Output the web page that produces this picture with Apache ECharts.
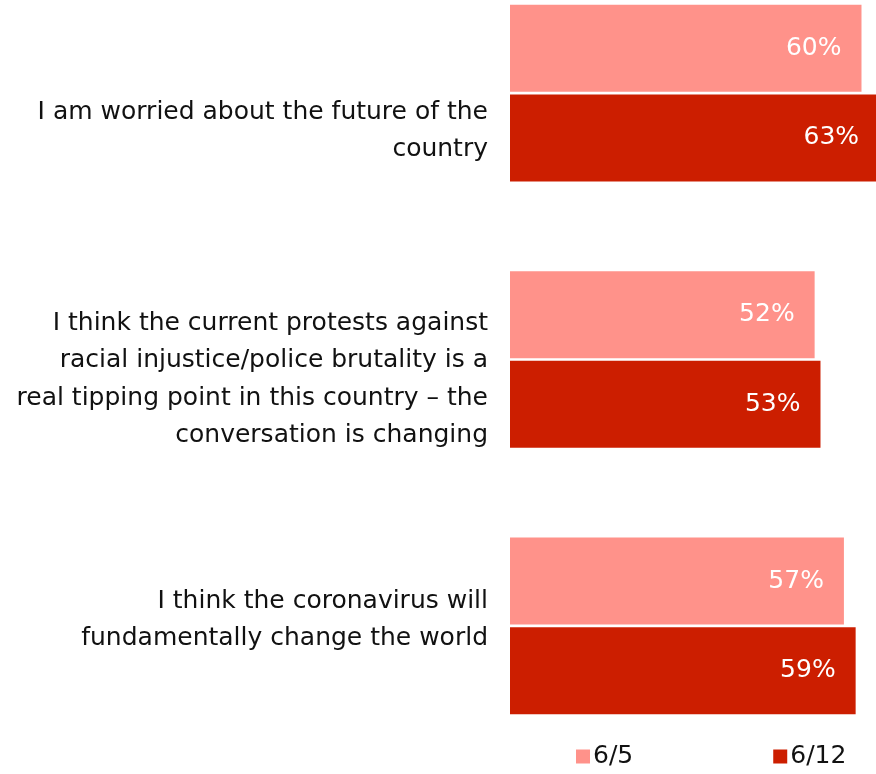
<!DOCTYPE html>
<html>
<head>
<meta charset="utf-8">
<script src="https://cdn.jsdelivr.net/npm/echarts@6/dist/echarts.min.js"></script>
<style>html,body{margin:0;padding:0;background:#fff;overflow:hidden;width:876px;height:774px;position:relative;}#c{position:absolute;left:0;top:-40px;width:882px;height:814px;}</style>
</head>
<body>
<div id="c"></div>
<script>
var categories = [
  "I am worried about the future of the\ncountry",
  "I think the current protests against\nracial injustice/police brutality is a\nreal tipping point in this country – the\nconversation is changing",
  "I think the coronavirus will\nfundamentally change the world"
];
var seriesNames = ["6/5", "6/12"];
var values65 = [60, 52, 57];
var values612 = [63, 53, 59];

var FONT = "DejaVu Sans";
var FS = 25;
// vertical offsets of each category label block (px, + = down)
var labelShift = [38, 20, -6];
var chart = echarts.init(document.getElementById('c'));
chart.setOption({
  animation: false,
  textStyle: {fontFamily: FONT},
  legend: {
    data: seriesNames,
    bottom: 0,
    left: 571,
    itemWidth: 14,
    itemHeight: 14,
    itemGap: 140,
    icon: 'rect',
    textStyle: {fontSize: FS, color: '#111', fontFamily: FONT, padding: [0,0,0,-2]}
  },
  grid: {left: 510, right: 0, top: 0, bottom: 15, containLabel: false},
  xAxis: {type: 'value', min: 0, max: 63.5, show: false},
  yAxis: {
    type: 'category',
    inverse: true,
    data: categories,
    axisLine: {show: false},
    axisTick: {show: false},
    splitLine: {show: false},
    axisLabel: {
      fontSize: FS, color: '#111', lineHeight: 37.5, margin: 22, align: 'right', fontFamily: FONT,
      formatter: function (v, i) {
        var s = labelShift[i];
        var lines = v.split('\n').map(function (l) { return '{t|' + l + '}'; }).join('\n');
        if (s > 0) return '{sp' + i + '| }\n' + lines;
        if (s < 0) return lines + '\n{sp' + i + '| }';
        return lines;
      },
      rich: {
        t: {fontSize: FS, color: '#111', lineHeight: 37.5, fontFamily: FONT},
        sp0: {fontSize: 1, lineHeight: 2 * Math.abs(labelShift[0])},
        sp1: {fontSize: 1, lineHeight: 2 * Math.abs(labelShift[1])},
        sp2: {fontSize: 1, lineHeight: 2 * Math.abs(labelShift[2])}
      }
    }
  },
  series: [
    {name: seriesNames[0], type: 'bar', data: values65, barWidth: 87, barGap: '3%',
     itemStyle: {color: '#FF928A'},
     label: {show: true, position: 'insideRight', distance: 20, formatter: '{c}%', color: '#fff', fontSize: FS, fontFamily: FONT}},
    {name: seriesNames[1], type: 'bar', data: values612, barWidth: 87, barGap: '3%',
     itemStyle: {color: '#CC1E00'},
     label: {show: true, position: 'insideRight', distance: 20, formatter: '{c}%', color: '#fff', fontSize: FS, fontFamily: FONT}}
  ]
});
</script>
</body>
</html>
